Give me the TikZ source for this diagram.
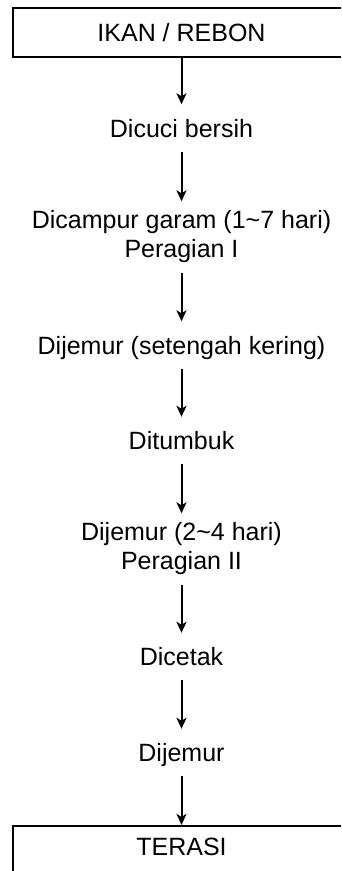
\documentclass[tikz,border=0pt]{standalone}
\usepackage{fontspec}
\setmainfont{Liberation Sans}
\usetikzlibrary{arrows.meta, positioning}

\begin{document}
\begin{tikzpicture}[x=1pt, y=-1pt, >={Stealth[length=11pt, width=10pt, inset=3pt]},
    font=\fontsize{25}{29}\selectfont,
    kotak/.style={draw, line width=2.2pt, minimum width=337pt, minimum height=49pt,
                  inner sep=0pt, text height=18pt, text depth=0pt},
    langkah/.style={inner sep=0pt, minimum height=47pt, text height=18pt, text depth=0pt},
    langkah2/.style={inner sep=0pt, minimum height=71pt, align=center},
    panah/.style={->, line width=2pt}]
    % Batas gambar
    \useasboundingbox (0,0) rectangle (341,871);
    \clip (0,0) rectangle (341,871);

    % Bahan awal
    \node[kotak] (bahan) at (181.5,32.5) {IKAN / REBON};

    % Tahapan proses
    \node[langkah]  (cuci)   at (181.5,128)   {Dicuci bersih};
    \node[langkah2] (garam)  at (181.5,237)   {Dicampur garam (1\textasciitilde 7 hari)\\Peragian I};
    \node[langkah]  (jemur1) at (181.5,345)   {Dijemur (setengah kering)};
    \node[langkah]  (tumbuk) at (181.5,440.5) {Ditumbuk};
    \node[langkah2] (jemur2) at (181.5,549)   {Dijemur (2\textasciitilde 4 hari)\\Peragian II};
    \node[langkah]  (cetak)  at (181.5,656.5) {Dicetak};
    \node[langkah]  (jemur3) at (181.5,752.5) {Dijemur};

    % Hasil akhir
    \node[kotak, text depth=8pt] (terasi) at (181.5,850.5) {TERASI};

    % Panah antar tahap
    \draw[panah] (bahan) -- (cuci);
    \draw[panah] (cuci) -- (garam);
    \draw[panah] (garam) -- (jemur1);
    \draw[panah] (jemur1) -- (tumbuk);
    \draw[panah] (tumbuk) -- (jemur2);
    \draw[panah] (jemur2) -- (cetak);
    \draw[panah] (cetak) -- (jemur3);
    \draw[panah] (jemur3) -- (terasi);
\end{tikzpicture}
\end{document}
